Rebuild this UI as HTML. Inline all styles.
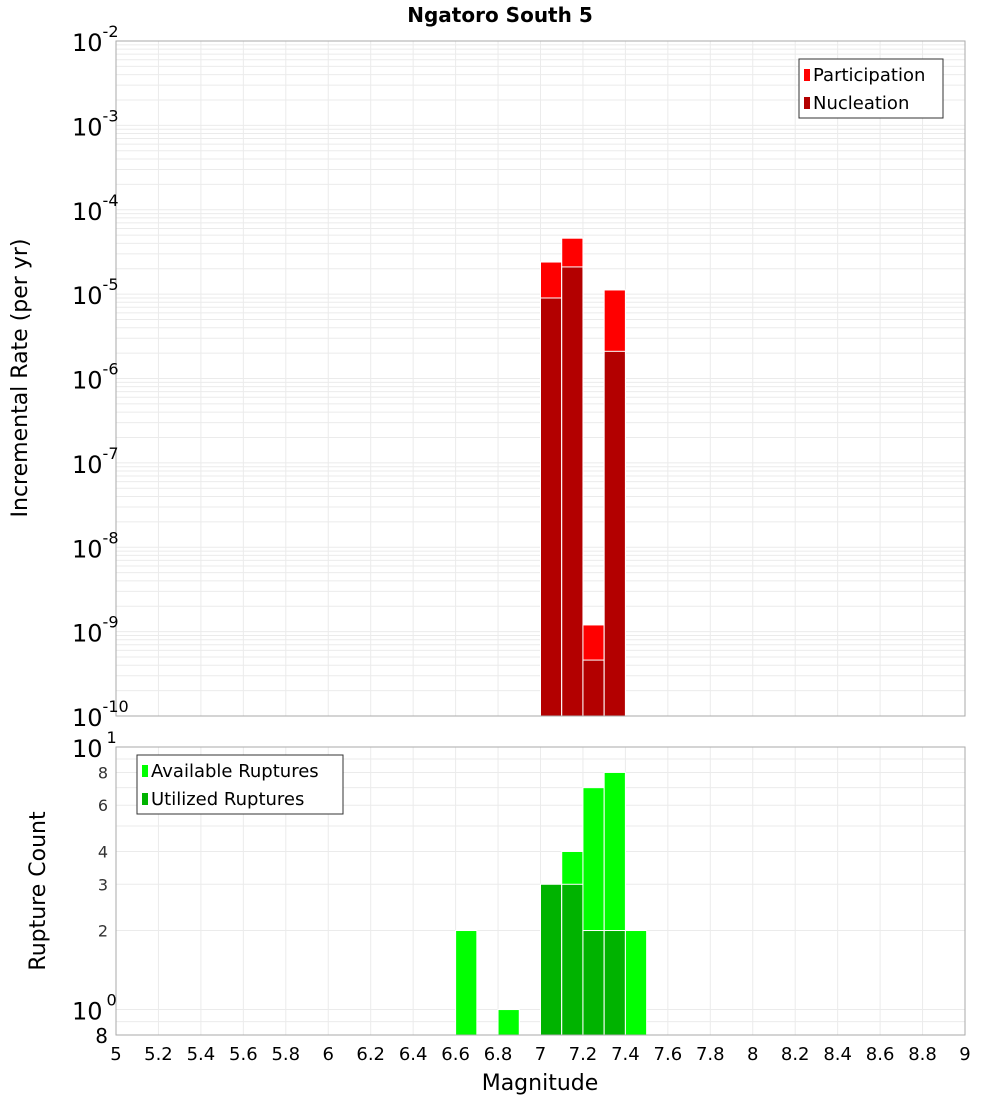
<!DOCTYPE html>
<html><head><meta charset="utf-8"><style>
body{margin:0;background:#fff;}
svg{display:block;font-family:"DejaVu Sans","Liberation Sans",sans-serif;}
</style></head><body>
<svg id="c" width="1000" height="1100" xmlns="http://www.w3.org/2000/svg"></svg>
<script>
const mags = [7.05, 7.15, 7.25, 7.35];
const participation = [2.4e-5, 4.6e-5, 1.2e-9, 1.12e-5];
const nucleation = [9e-6, 2.1e-5, 4.6e-10, 2.1e-6];
const countMags = [6.65, 6.85, 7.05, 7.15, 7.25, 7.35, 7.45];
const available = [2, 1, 3, 4, 7, 8, 2];
const utilized = [0, 0, 3, 3, 2, 2, 0];
const xTicks = ["5","5.2","5.4","5.6","5.8","6","6.2","6.4","6.6","6.8","7","7.2","7.4","7.6","7.8","8","8.2","8.4","8.6","8.8","9"];
const topExps = [-2,-3,-4,-5,-6,-7,-8,-9,-10];
const botTicks = [8,6,4,3,2];

const svg = document.getElementById('c');
const NS = 'http://www.w3.org/2000/svg';
function mk(tag, attrs, parent){const e=document.createElementNS(NS,tag);for(const k in attrs)e.setAttribute(k,attrs[k]);(parent||svg).appendChild(e);return e;}
const L=116,R=965;
const X=v=>L+(v-5)/4*(R-L);
const T0=41,T1=716;
const YT=v=>T0+(-2-Math.log10(v))/8*(T1-T0);
const B0=747,B1=1035;
const YB=v=>B1-(Math.log10(v)-Math.log10(0.8))/(1-Math.log10(0.8))*(B1-B0);

// grids
const g=mk('g',{});


for(let i=1;i<20;i++){const x=X(5+i*0.2);
 mk('line',{x1:x,x2:x,y1:T0,y2:T1,stroke:'#ebebeb'},g);
 mk('line',{x1:x,x2:x,y1:B0,y2:B1,stroke:'#ebebeb'},g);}
for(let e=-10;e<-2;e++){for(let m=1;m<10;m++){const y=YT(m*Math.pow(10,e));if(y>T0&&y<T1)mk('line',{x1:L,x2:R,y1:y,y2:y,stroke:'#ebebeb'},g);}}
[0.9,1,2,3,4,5,6,7,8,9].forEach(v=>{const y=YB(v);mk('line',{x1:L,x2:R,y1:y,y2:y,stroke:'#ebebeb'},g);});

// top bars
const w=(R-L)/40;
mags.forEach((m,i)=>{
 let r=mk('rect',{x:X(m)-w/2,y:YT(participation[i]),width:w,height:T1-YT(participation[i]),fill:'#ff0000',stroke:'#fff','stroke-width':1});
 
 
 r=mk('rect',{x:X(m)-w/2,y:YT(nucleation[i]),width:w,height:T1-YT(nucleation[i]),fill:'#b30000',stroke:'#fff','stroke-width':1});
 
 
});
countMags.forEach((m,i)=>{
 let r=mk('rect',{x:X(m)-w/2,y:YB(available[i]),width:w,height:B1-YB(available[i]),fill:'#00ff00',stroke:'#fff','stroke-width':1});
 
 
 if(utilized[i]>0){r=mk('rect',{x:X(m)-w/2,y:YB(utilized[i]),width:w,height:B1-YB(utilized[i]),fill:'#00b300',stroke:'#fff','stroke-width':1});
 
 }
});
mk('rect',{x:L,y:T0,width:R-L,height:T1-T0,fill:'none',stroke:'#aaa'});
mk('rect',{x:L,y:B0,width:R-L,height:B1-B0,fill:'none',stroke:'#aaa'});

// top y labels
topExps.forEach(e=>{const y=YT(Math.pow(10,e));
 const t=mk('text',{x:72,y:y+10,'font-size':24,fill:'#000'});
 
 
 t.innerHTML='10<tspan dy="-14" font-size="16">'+e+'</tspan>';});
// bottom y labels
[[10,'1'],[1,'0']].forEach(([v,e])=>{const y=YB(v);
 const t=mk('text',{x:72,y:y+10,'font-size':24,fill:'#000'});
 
 
 t.innerHTML='10<tspan dx="4" dy="-14" font-size="16">'+e+'</tspan>';});
botTicks.forEach(v=>{const t=mk('text',{x:108,y:YB(v)+6,'font-size':16,'text-anchor':'end',fill:'#333'});
 
 
 t.textContent=v;});
let t8=mk('text',{x:108,y:1043,'font-size':20,'text-anchor':'end',fill:'#000'});t8.textContent='8';


// x labels
xTicks.forEach((s,i)=>{const t=mk('text',{x:X(5+i*0.2),y:1060,'font-size':18,'text-anchor':'middle',fill:'#000'});
 
 
 t.textContent=s;});
// titles
let t=mk('text',{x:500,y:22,'font-size':20,'font-weight':'bold','text-anchor':'middle'});t.textContent='Ngatoro South 5';

t=mk('text',{x:540,y:1090,'font-size':22,'text-anchor':'middle'});t.textContent='Magnitude';

t=mk('text',{x:0,y:0,'font-size':22,'text-anchor':'middle',transform:'translate(27,378) rotate(-90)'});t.textContent='Incremental Rate (per yr)';

t=mk('text',{x:0,y:0,'font-size':22,'text-anchor':'middle',transform:'translate(45,891) rotate(-90)'});t.textContent='Rupture Count';

// legends
function legend(x,y,wd,items,name){const lg=mk('g',{});
 
 mk('rect',{x:x,y:y,width:wd,height:59,fill:'#fff',stroke:'#333'},lg);
 items.forEach(([c,s],i)=>{mk('rect',{x:x+5,y:y+10+i*28,width:6,height:12,fill:c},lg);
  const tt=mk('text',{x:x+14,y:y+22+i*28,'font-size':18},lg);tt.textContent=s;});}
legend(799,59,144,[['#ff0000','Participation'],['#b30000','Nucleation']],'legend-top');
legend(137,755,206,[['#00ff00','Available Ruptures'],['#00b300','Utilized Ruptures']],'legend-bottom');
</script>
</body></html>
